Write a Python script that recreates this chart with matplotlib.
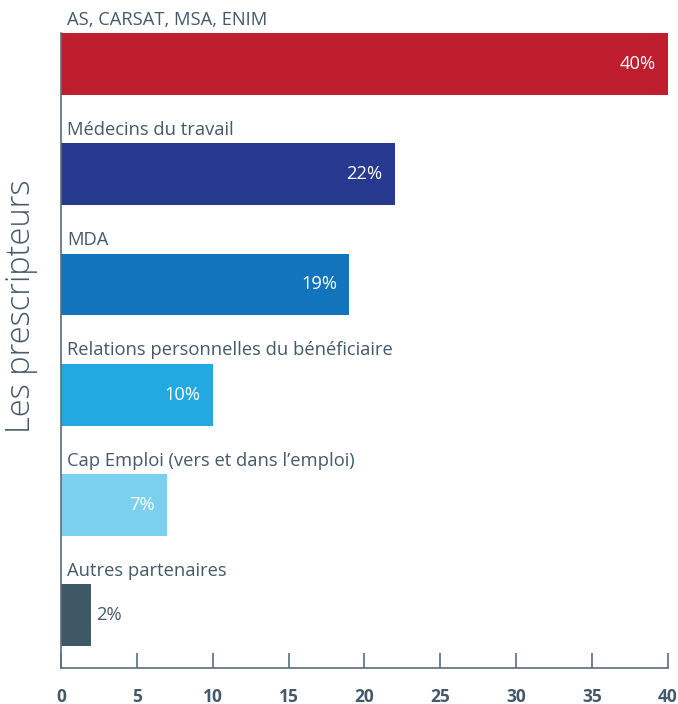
import matplotlib.pyplot as plt

# Chart data
categories = ["AS, CARSAT, MSA, ENIM",
              "Médecins du travail",
              "MDA",
              "Relations personnelles du bénéficiaire",
              "Cap Emploi (vers et dans l\u2019emploi)",
              "Autres partenaires"]
values = [40, 22, 19, 10, 7, 2]
value_labels = ["40%", "22%", "19%", "10%", "7%", "2%"]
colors = ["#BE1E2D", "#283A8F", "#1174BC", "#22A9E1", "#7AD0EE", "#3F5866"]
ticks = [0, 5, 10, 15, 20, 25, 30, 35, 40]

text_color = "#44596A"
plt.rcParams['font.family'] = ['Open Sans', 'DejaVu Sans']

fig = plt.figure(figsize=(6.78, 7.04), dpi=100)
ax = fig.add_axes([0.090, 0.051, 0.895, 0.902])

pos = list(range(len(categories)))
ax.barh(pos, values, height=0.56, color=colors)

for y, v, lab, cat in zip(pos, values, value_labels, categories):
    # category name above bar
    ax.text(0.4, y - 0.32, cat, ha='left', va='bottom', fontsize=13.2,
            color=text_color, clip_on=False)
    if v > 5:
        ax.text(v - 0.8, y, lab, ha='right', va='center', fontsize=13.2,
                color='white')
    else:
        ax.text(v + 0.3, y, lab, ha='left', va='center', fontsize=13.2,
                color=text_color)

ax.set_xlim(0, 40)
ax.set_ylim(5.48, -0.28)
ax.set_xticks(ticks)
ax.set_xticklabels([str(t) for t in ticks], fontsize=12.5, fontweight='bold',
                   color=text_color)
ax.set_yticks([])
ax.tick_params(axis='x', direction='in', length=11, width=1.2, color='#5A6E7C', pad=14)

for s in ['top', 'right']:
    ax.spines[s].set_visible(False)
for s in ['left', 'bottom']:
    ax.spines[s].set_color('#5A6E7C')
    ax.spines[s].set_linewidth(1.2)

fig.text(0.031, 0.565, "Les prescripteurs", rotation=90, ha='center', va='center',
         fontsize=23.5, fontweight='light', color=text_color)

fig.savefig("out.png", dpi=100)
